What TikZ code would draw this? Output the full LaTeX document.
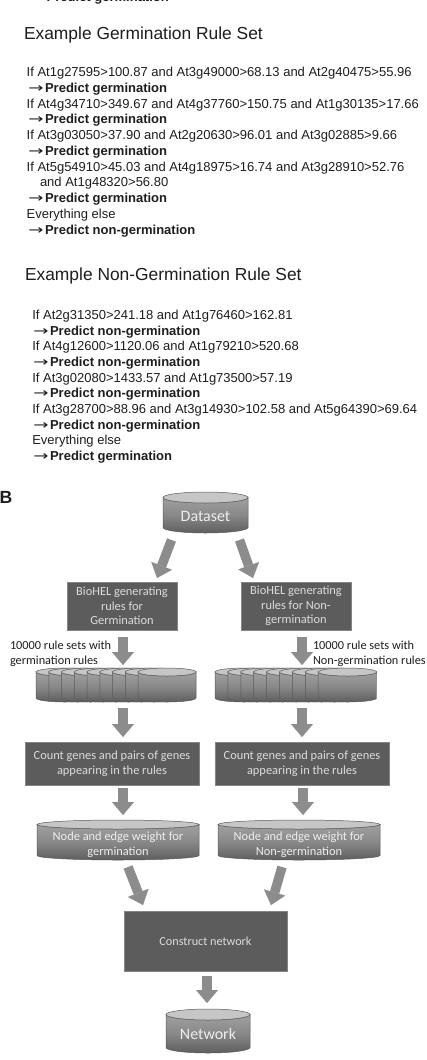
\documentclass[tikz,border=0pt]{standalone}
\usepackage{fontspec}
\usepackage{graphicx}
\setmainfont{Liberation Sans}
\newfontfamily\carlito{Carlito}
\newfontfamily\djv{DejaVu Sans}
\usetikzlibrary{arrows.meta,calc}

\definecolor{txt}{HTML}{1E1E1E}
\definecolor{boxfill}{HTML}{5C5C5C}
\definecolor{boxedge}{HTML}{858585}
\definecolor{boxtext}{HTML}{DCDCDC}
\definecolor{cyltop}{HTML}{A0A0A0}
\definecolor{cylmid}{HTML}{888888}
\definecolor{cylbot}{HTML}{5E5E5E}
\definecolor{cyledge}{HTML}{5A5A5A}
\definecolor{cylcap}{HTML}{C6C6C6}
\definecolor{cyltxt}{HTML}{EEEEEE}
\definecolor{arrowfill}{HTML}{8C8C8C}

\newcommand\cylinderat[6]{%
  \pgfmathsetmacro\cylrx{(#4-#2)/2}%
  \pgfmathsetmacro\cylcx{(#2+#4)/2}%
  \pgfmathsetmacro\cylcy{(#3+#5)/2}%
  \shadedraw[cylbody] (#2,#3+#6) -- (#2,#5-#6)
     arc[start angle=180,end angle=0,x radius=\cylrx,y radius=#6]
     -- (#4,#3+#6)
     arc[start angle=0,end angle=180,x radius=\cylrx,y radius=#6] -- cycle;
  \filldraw[cylcapst] (\cylcx,#3+#6) ellipse[x radius=\cylrx,y radius=#6];
  \node[hidden,minimum width={(#4-#2)*1pt},minimum height={(#5-#3)*1pt}] (#1) at (\cylcx,\cylcy) {};
}
\newcommand\rarr{{\djv\fontsize{13}{15.7}\selectfont\scalebox{1.4}[1]{→}}\hspace{1.5pt}}

\begin{document}
\begin{tikzpicture}[x=1pt,y=-1pt,
  rule/.style={anchor=base west,inner sep=0,outer sep=0,text=txt,font=\fontsize{13}{15.7}\selectfont},
  ruletitle/.style={anchor=base west,inner sep=0,outer sep=0,text=txt,font=\fontsize{17.4}{20}\selectfont},
  box/.style={draw=boxedge,line width=0.7pt,fill=boxfill,text=boxtext,
     font=\carlito\fontsize{12.4}{14.7}\selectfont,align=center,inner sep=0,outer sep=0},
  cylbody/.style={top color=cyltop,bottom color=cylbot,middle color=cylmid,draw=cyledge,line width=0.5pt},
  cylcapst/.style={fill=cylcap,draw=cyledge,line width=0.5pt},
  cyltext/.style={text=cyltxt,font=\carlito\fontsize{12.4}{14.7}\selectfont,align=center,inner sep=0},
  bigcyltext/.style={text=cyltxt,font=\carlito\fontsize{16}{18}\selectfont,inner sep=0},
  lab/.style={anchor=base west,inner sep=0,outer sep=0,text=txt,font=\carlito\fontsize{12.3}{15}\selectfont},
  hidden/.style={inner sep=0,outer sep=0,draw=none},
  blockarrow/.style={draw=arrowfill,line width=9.5pt,-{Triangle[length=13pt,width=22pt,line width=0.1pt]}}
]
\useasboundingbox (0,0) rectangle (426,1060);
\fill[white] (0,0) rectangle (426,1060);
\clip (0,0) rectangle (426,1060);

% ---------- Part A: germination rule set ----------
\node[rule] (g0) at (30,1.5) {\rarr\textbf{Predict germination}};
\node[ruletitle] (t1) at (24,39.3) {Example Germination Rule Set};
\node[rule] (g1) at (26.7,76.7) {If At1g27595>100.87 and At3g49000>68.13 and At2g40475>55.96};
\node[rule] (g2) at (28.3,92.45) {\rarr\textbf{Predict germination}};
\node[rule] (g3) at (26.7,108.2) {If At4g34710>349.67 and At4g37760>150.75 and At1g30135>17.66};
\node[rule] (g4) at (28.3,123.95) {\rarr\textbf{Predict germination}};
\node[rule] (g5) at (26.7,139.7) {If At3g03050>37.90 and At2g20630>96.01 and At3g02885>9.66};
\node[rule] (g6) at (28.3,155.45) {\rarr\textbf{Predict germination}};
\node[rule] (g7) at (26.7,171.2) {If At5g54910>45.03 and At4g18975>16.74 and At3g28910>52.76};
\node[rule] (g8) at (40,186.95) {and At1g48320>56.80};
\node[rule] (g9) at (28.3,202.7) {\rarr\textbf{Predict germination}};
\node[rule] (g10) at (26.7,218.45) {Everything else};
\node[rule] (g11) at (28.3,234.2) {\rarr\textbf{Predict non-germination}};

% ---------- non-germination rule set ----------
\node[ruletitle] (t2) at (25,280.7) {Example Non-Germination Rule Set};
\node[rule] (n1) at (32.3,319.3) {If At2g31350>241.18 and At1g76460>162.81};
\node[rule] (n2) at (33.3,335) {\rarr\textbf{Predict non-germination}};
\node[rule] (n3) at (32.3,350.7) {If At4g12600>1120.06 and At1g79210>520.68};
\node[rule] (n4) at (33.3,366.4) {\rarr\textbf{Predict non-germination}};
\node[rule] (n5) at (32.3,382.1) {If At3g02080>1433.57 and At1g73500>57.19};
\node[rule] (n6) at (33.3,397.8) {\rarr\textbf{Predict non-germination}};
\node[rule] (n7) at (32.3,413.5) {If At3g28700>88.96 and At3g14930>102.58 and At5g64390>69.64};
\node[rule] (n8) at (33.3,429.2) {\rarr\textbf{Predict non-germination}};
\node[rule] (n9) at (32.3,444.9) {Everything else};
\node[rule] (n10) at (33.3,460.6) {\rarr\textbf{Predict germination}};

% ---------- Part B ----------
\node[anchor=base west,inner sep=0,text=txt,font=\bfseries\fontsize{17.6}{20}\selectfont] (B) at (-0.5,503.3) {B};

\cylinderat{ds}{163}{492}{248}{533}{5.5}
\node[bigcyltext] (dstxt) at (205.5,516) {Dataset};

\node[box,minimum width=110pt,minimum height=48pt] (bl) at (122,606) {BioHEL generating\\rules for\\Germination};
\node[box,minimum width=110pt,minimum height=48pt] (br) at (296,606) {BioHEL generating\\rules for Non-\\germination};

\node[lab] (labL1) at (10,649.3) {10000 rule sets with};
\node[lab] (labL2) at (10,664.3) {germination rules};
\node[lab] (labR1) at (313,649.3) {10000 rule sets with};
\node[lab] (labR2) at (313,664.3) {Non-germination rules};

\foreach \i in {0,...,8} {
  \pgfmathsetmacro\xa{36+12.75*\i}
  \cylinderat{sl\i}{\xa}{668}{\xa+58}{702}{4}
}
\foreach \i in {0,...,8} {
  \pgfmathsetmacro\xa{215+12.9*\i}
  \cylinderat{sr\i}{\xa}{668}{\xa+58.4}{702}{4}
}
\node[hidden,minimum width=160pt,minimum height=34pt] (stL) at (116,685) {};
\node[hidden,minimum width=162pt,minimum height=34pt] (stR) at (296,685) {};

\node[box,minimum width=174pt,minimum height=43pt] (cl) at (112,763.5) {Count genes and pairs of genes\\appearing in the rules};
\node[box,minimum width=174pt,minimum height=43pt] (cr) at (302,763.5) {Count genes and pairs of genes\\appearing in the rules};

\cylinderat{wl}{37}{820}{199}{860}{4.5}
\node[cyltext] (wltxt) at (118,845) {Node and edge weight for\\germination};
\cylinderat{wr}{218}{820}{380}{860}{4.5}
\node[cyltext] (wrtxt) at (299,845) {Node and edge weight for\\Non-germination};

\node[box,minimum width=163pt,minimum height=60pt,font=\carlito\fontsize{12.2}{14}\selectfont] (cn) at (205.5,941) {Construct network};

\cylinderat{nw}{166}{1009}{250}{1053}{5.5}
\node[bigcyltext] (nwtxt) at (208,1034) {Network};

% ---------- block arrows ----------
\draw[blockarrow] ($(ds.south)+(-34,7)$) -- ($(bl.north)+(35,-4)$);
\draw[blockarrow] ($(ds.south)+(34,7)$) -- ($(br.north)+(-43,-4)$);
\draw[blockarrow] ($(bl.south)+(1,7)$) -- ($(stL.north)+(7,-3)$);
\draw[blockarrow] ($(br.south)+(6,7)$) -- ($(stR.north)+(6,-3)$);
\draw[blockarrow] ($(stL.south)+(7,6)$) -- ($(cl.north)+(11,-5)$);
\draw[blockarrow] ($(stR.south)+(6,6)$) -- ($(cr.north)+(0,-5)$);
\draw[blockarrow] ($(cl.south)+(11,3)$) -- ($(wl.north)+(5,-5)$);
\draw[blockarrow] ($(cr.south)+(1,3)$) -- ($(wr.north)+(4,-5)$);
\draw[blockarrow] ($(wl.south)+(10,7)$) -- ($(cn.north)+(-62.5,-6)$);
\draw[blockarrow] ($(wr.south)+(-17,7)$) -- ($(cn.north)+(65.5,-6)$);
\draw[blockarrow] ($(cn.south)+(1.5,5)$) -- ($(nw.north)+(-1,-6)$);
\end{tikzpicture}
\end{document}
